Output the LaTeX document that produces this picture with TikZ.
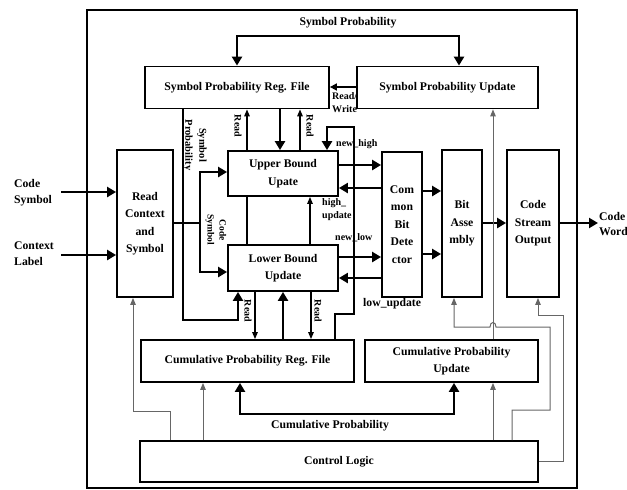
\documentclass[tikz,border=0pt]{standalone}
\usepackage{fontspec}
\setmainfont{Liberation Serif}
\usetikzlibrary{arrows.meta}

\begin{document}
\begin{tikzpicture}[x=1pt,y=-1pt,
  blk/.style={draw, line width=1.8pt, align=center, inner sep=0pt,
    font=\fontsize{11.7}{17.5}\selectfont\bfseries},
  thk/.style={line width=2.6pt, -{Triangle[length=9pt,width=10pt]}},
  dbl/.style={line width=2.6pt, {Triangle[length=9pt,width=10pt]}-{Triangle[length=9pt,width=10pt]}},
  thkline/.style={line width=2.6pt},
  thn/.style={line width=1.2pt, -{Triangle[length=7pt,width=5.5pt]}},
  ctl/.style={line width=1pt, black!60, -{Triangle[length=7pt,width=5.5pt]}},
  lbl/.style={font=\fontsize{11.7}{16}\selectfont\bfseries, align=center, inner sep=0pt},
  sml/.style={font=\fontsize{10}{13}\selectfont\bfseries, align=left, inner sep=0pt}]
  \useasboundingbox (0,0) rectangle (627,490);
  % outer frame
  \draw[line width=1.4pt] (87,10) rectangle (577,488);
  % blocks
  \node[blk, minimum width=184pt, minimum height=42pt] (spreg) at (237,87.5) {Symbol Probability Reg. File};
  \node[blk, minimum width=181pt, minimum height=42pt] (spupd) at (447.5,87.5) {Symbol Probability Update};
  \node[blk, minimum width=56pt, minimum height=147pt] (rcs) at (145,223.5) {Read\\Context\\and\\Symbol};
  \node[blk, minimum width=110pt, minimum height=45pt] (ubu) at (283,173.5) {Upper Bound\\Upate};
  \node[blk, minimum width=110pt, minimum height=46pt] (lbu) at (283,268) {Lower Bound\\Update};
  \node[blk, minimum width=40pt, minimum height=145pt] (cbd) at (402,224.5) {Com\\mon\\Bit\\Dete\\ctor};
  \node[blk, minimum width=40pt, minimum height=147pt] (bas) at (462,223.5) {Bit\\Asse\\mbly};
  \node[blk, minimum width=52pt, minimum height=147pt] (cso) at (533,223.5) {Code\\Stream\\Output};
  \node[blk, minimum width=213pt, minimum height=42pt] (cpreg) at (247.5,361) {Cumulative Probability Reg. File};
  \node[blk, minimum width=173pt, minimum height=42pt] (cpupd) at (451.5,361) {Cumulative Probability\\Update};
  \node[blk, minimum width=398pt, minimum height=41pt] (ctrl) at (339,461.5) {Control Logic};
  % labels
  \node[lbl] (symprob) at (348,23) {Symbol Probability};
  \node[lbl] (cumprob) at (330,426) {Cumulative Probability};
  \node[lbl, align=left, anchor=west] (codesym) at (14,193) {Code\\Symbol};
  \node[lbl, align=left, anchor=west] (ctxlab) at (14,254) {Context\\Label};
  \node[lbl, align=left, anchor=west, font=\fontsize{11.7}{15}\selectfont\bfseries] (codeword) at (599,224) {Code\\Word};
  \node[sml, anchor=west] (rw) at (332,103) {Read/\\Write};
  \node[sml, rotate=-90] (rd1) at (238,126) {Read};
  \node[sml, rotate=-90] (rd2) at (310,126) {Read};
  \node[sml, rotate=-90] (rd3) at (248,311) {Read};
  \node[sml, rotate=-90] (rd4) at (318,311) {Read};
  \node[sml, rotate=-90, align=center, font=\fontsize{10.5}{14}\selectfont\bfseries] (spv) at (195,145) {Symbol\\Probability};
  \node[sml, rotate=-90, align=center, font=\fontsize{9.5}{12}\selectfont\bfseries] (csv) at (216,230) {Code\\Symbol};
  \node[sml, anchor=west] (nh) at (336,144) {new\_high};
  \node[sml, anchor=west] (hu) at (322,210) {high\_\\update};
  \node[sml, anchor=west] (nl) at (335,238) {new\_low};
  \node[lbl, anchor=west] (lu) at (363,304) {low\_update};
  % symbol probability loop
  \draw[dbl] (spreg.north) -- (237,36) -| (spupd.north -| 459,0);
  \draw[line width=1.6pt, -{Triangle[length=7pt,width=7pt]}] (spupd.west |- 0,87) -- (spreg.east |- 0,87);
  % inputs and output
  \coordinate (in1) at (61,192);
  \coordinate (in2) at (61,255);
  \coordinate (out) at (598,223);
  \draw[thk] (in1) -- (rcs.west |- in1);
  \draw[thk] (in2) -- (rcs.west |- in2);
  \draw[thk] (cso.east |- out) -- (out);
  % code symbol bus
  \coordinate (bus) at (200,223);
  \draw[thkline] (rcs.east |- bus) -- (bus);
  \draw[thk] (bus) |- (ubu.west |- 0,172);
  \draw[thk] (bus) |- (lbu.west |- 0,272);
  % symbol probability to lower bound
  \draw[thk] (spreg.south -| 183,0) |- (238,320) -- (lbu.south -| 238,0);
  % upper bound and symbol reg. file
  \draw[thn] (ubu.north -| 247,0) -- (spreg.south -| 247,0);
  \draw[thk] (spreg.south -| 280,0) -- (ubu.north -| 280,0);
  \draw[thn] (ubu.north -| 300,0) -- (spreg.south -| 300,0);
  \draw[line width=1.2pt] (ubu.south -| 247,0) -- (lbu.north -| 247,0);
  \draw[thn] (lbu.north -| 310,0) -- (ubu.south -| 310,0);
  % new_high
  \draw[thk] (cpreg.north -| 335,0) |- (354,314) -- (354,127) -| (ubu.north -| 327,0);
  % bounds and common bit detector
  \draw[thk] (ubu.east |- 0,165) -- (cbd.west |- 0,165);
  \draw[thk] (cbd.west |- 0,188) -- (ubu.east |- 0,188);
  \draw[thk] (lbu.east |- 0,257) -- (cbd.west |- 0,257);
  \draw[thk] (cbd.west |- 0,278) -- (lbu.east |- 0,278);
  \draw[thk] (cbd.east |- 0,191) -- (bas.west |- 0,191);
  \draw[thk] (cbd.east |- 0,254) -- (bas.west |- 0,254);
  \draw[thk] (bas.east |- 0,223) -- (cso.west |- 0,223);
  % lower bound and cumulative reg. file
  \draw[thn] (lbu.south -| 255,0) -- (cpreg.north -| 255,0);
  \draw[thk] (cpreg.north -| 283,0) -- (lbu.south -| 283,0);
  \draw[thn] (lbu.south -| 311,0) -- (cpreg.north -| 311,0);
  % cumulative probability loop
  \draw[dbl] (cpreg.south -| 240,0) |- (454,414) -- (cpupd.south -| 454,0);
  % control lines
  \draw[ctl] (ctrl.north -| 170,0) |- (133,411) -- (rcs.south -| 133,0);
  \draw[ctl] (ctrl.north -| 203,0) -- (cpreg.south -| 203,0);
  \draw[ctl] (ctrl.north -| 493,0) -- (cpupd.south -| 493,0);
  \draw[ctl] (cpupd.north -| 493,0) -- (spupd.south -| 493,0);
  \draw[ctl] (ctrl.north -| 512,0) |- (550,410) |- (496,327) .. controls (496,321) and (490,321) .. (490,327) -| (bas.south -| 454,0);
  \draw[ctl] (ctrl.east) -| (563,315) -| (cso.south -| 538,0);
\end{tikzpicture}
\end{document}
